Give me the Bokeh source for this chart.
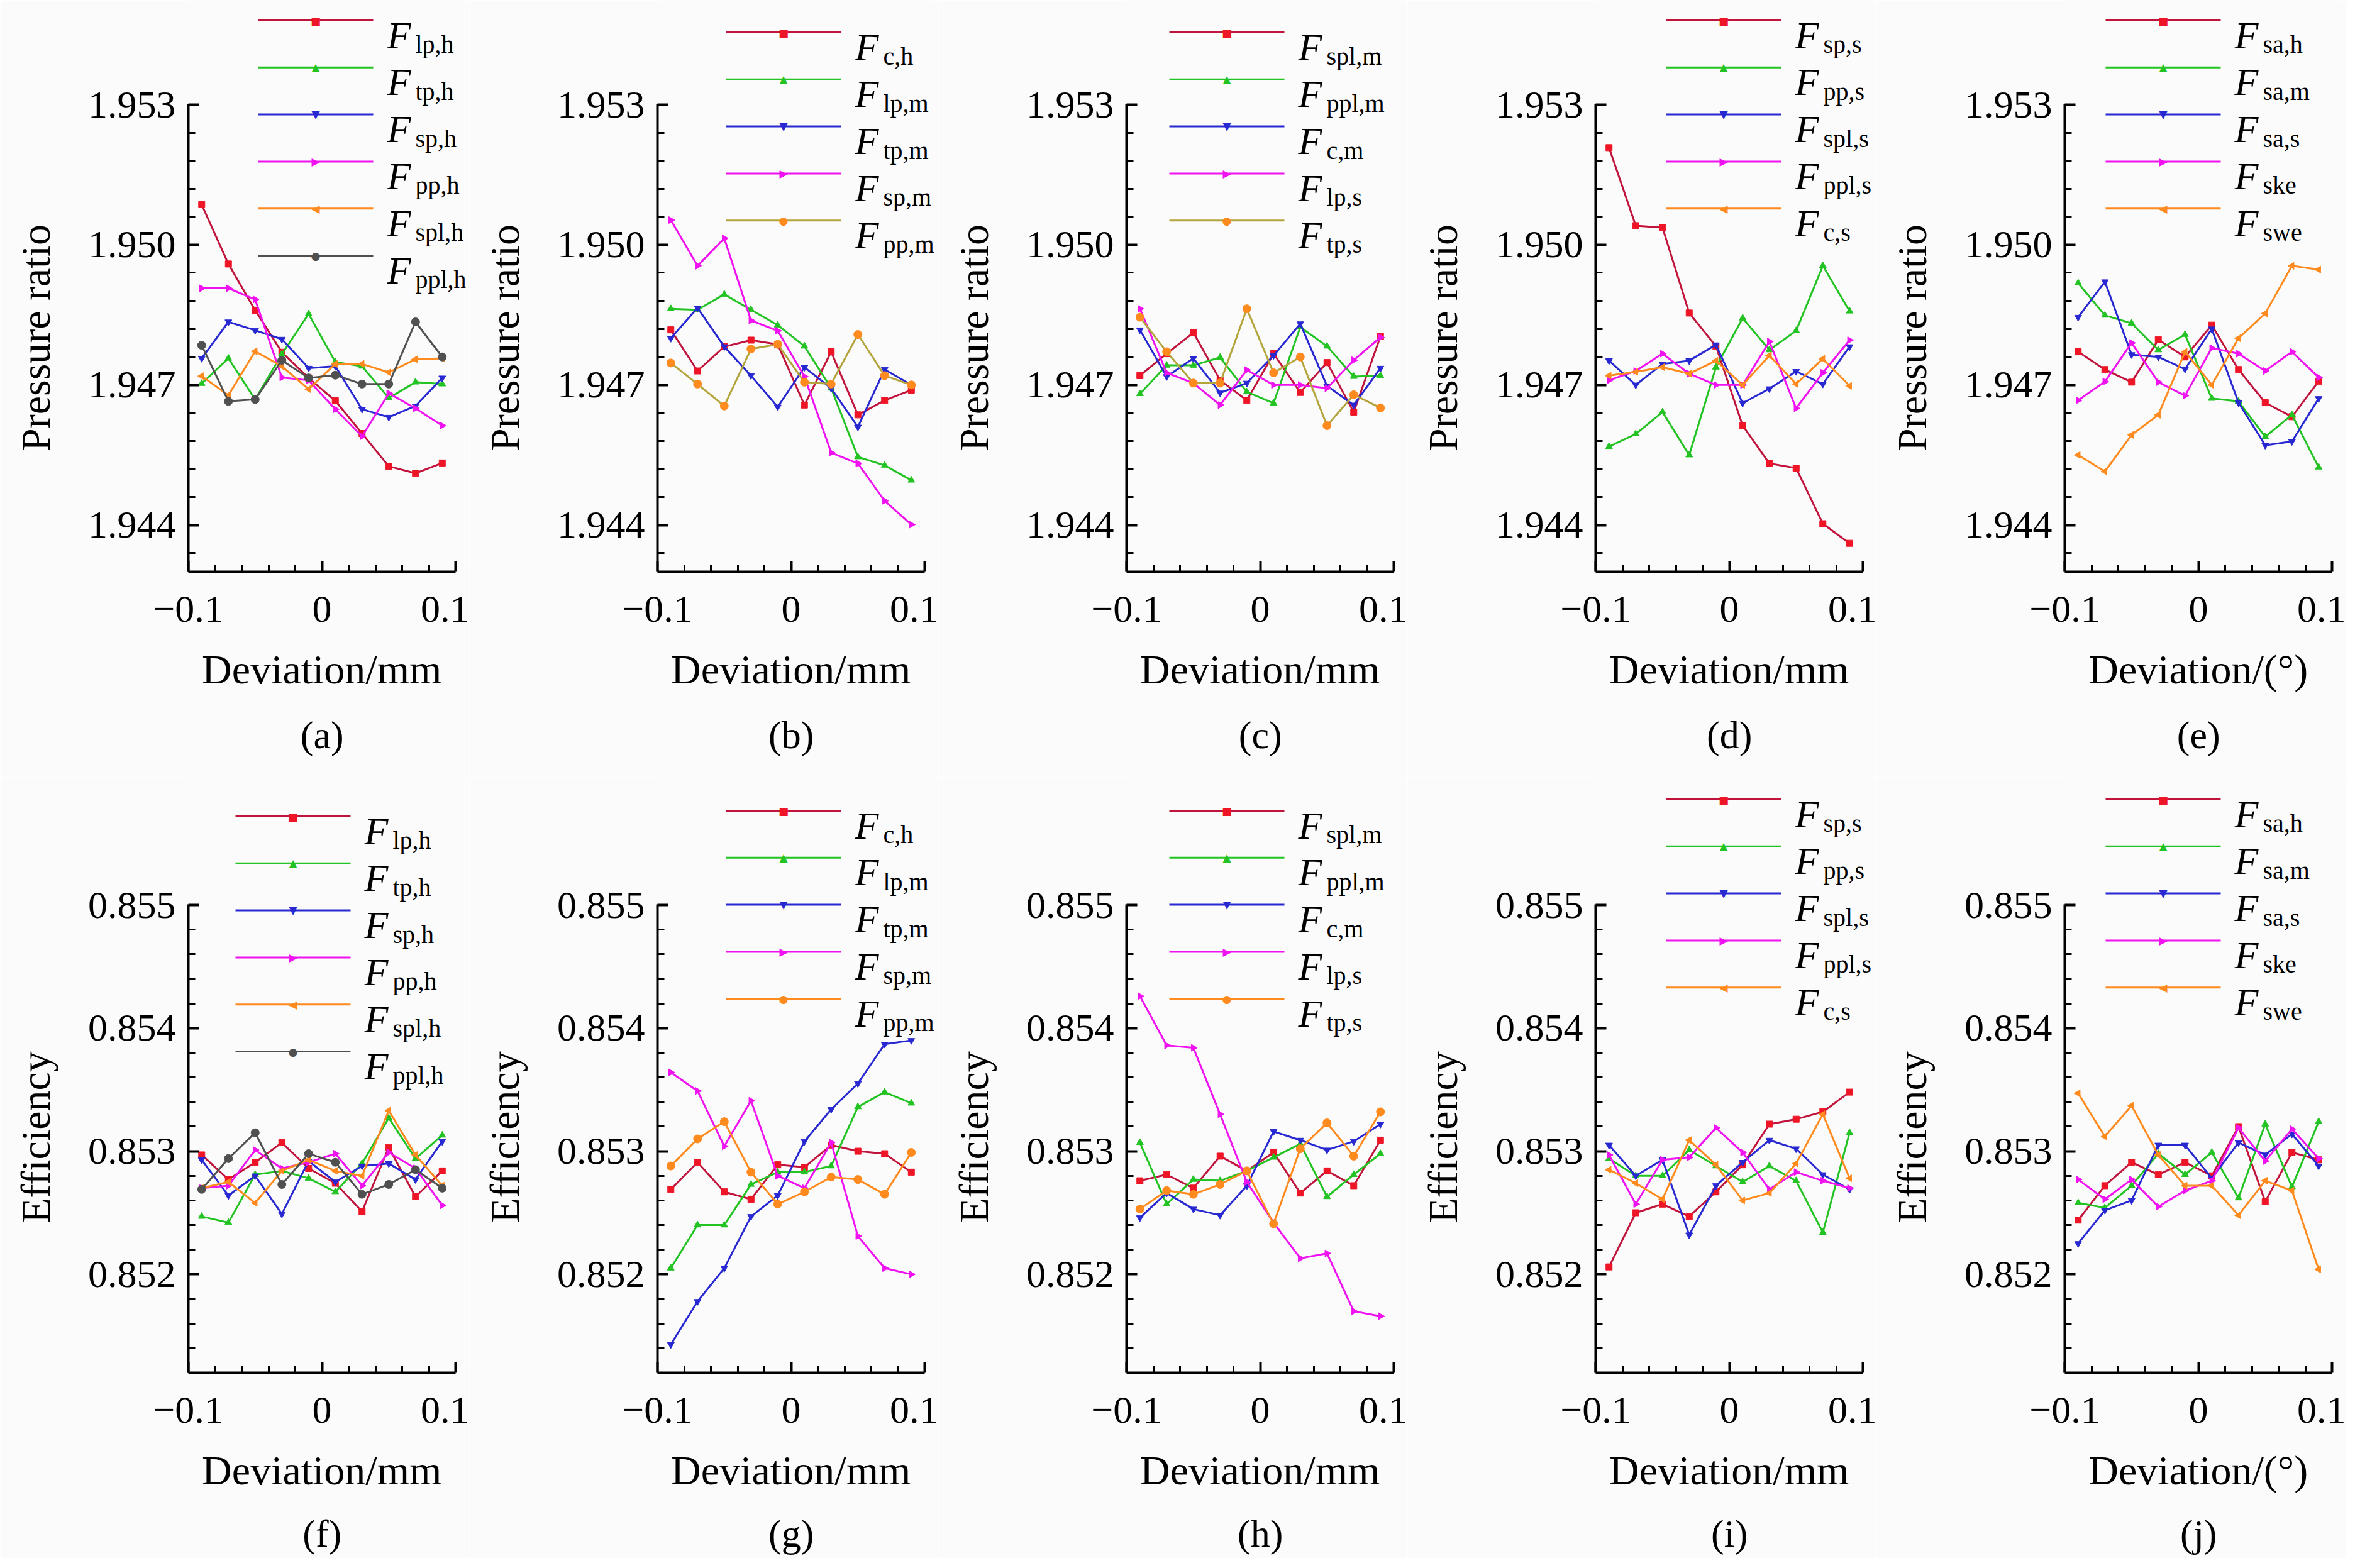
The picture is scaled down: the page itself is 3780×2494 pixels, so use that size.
import math
from bokeh.plotting import figure
from bokeh.models import Range1d, FixedTicker, NumeralTickFormatter, Label, Arrow, LinearAxis
from bokeh.layouts import gridplot
from bokeh.embed import file_html
from bokeh.resources import INLINE

# ---------------- data ----------------
deviation = [-0.09, -0.07, -0.05, -0.03, -0.01, 0.01, 0.03, 0.05, 0.07, 0.09]
x_ticks = [-0.1, 0.0, 0.1]
x_tick_labels = ["\u22120.1", "0", "0.1"]
pr_ticks = [1.944, 1.947, 1.950, 1.953]
eff_ticks = [0.852, 0.853, 0.854, 0.855]

# (a) pressure ratio
a_lp_h = [1.95086, 1.94959, 1.94860, 1.94770, 1.94715, 1.94666, 1.94596, 1.94526, 1.94511, 1.94533]
a_tp_h = [1.94703, 1.94757, 1.94669, 1.94766, 1.94852, 1.94749, 1.94740, 1.94672, 1.94706, 1.94702]
a_sp_h = [1.94757, 1.94835, 1.94817, 1.94798, 1.94736, 1.94740, 1.94648, 1.94631, 1.94655, 1.94715]
a_pp_h = [1.94907, 1.94907, 1.94883, 1.94716, 1.94710, 1.94648, 1.94590, 1.94682, 1.94650, 1.94613]
a_spl_h = [1.94719, 1.94678, 1.94772, 1.94740, 1.94691, 1.94745, 1.94745, 1.94727, 1.94755, 1.94757]
a_ppl_h = [1.94785, 1.94665, 1.94669, 1.94753, 1.94715, 1.94721, 1.94702, 1.94702, 1.94835, 1.94760]
# (b)
b_c_h = [1.94818, 1.94730, 1.94782, 1.94796, 1.94787, 1.94657, 1.94771, 1.94636, 1.94667, 1.94689]
b_lp_m = [1.94863, 1.94861, 1.94894, 1.94861, 1.94828, 1.94783, 1.94693, 1.94546, 1.94528, 1.94496]
b_tp_m = [1.94800, 1.94865, 1.94782, 1.94720, 1.94653, 1.94738, 1.94693, 1.94610, 1.94733, 1.94700]
b_sp_m = [1.95053, 1.94955, 1.95014, 1.94838, 1.94816, 1.94718, 1.94555, 1.94532, 1.94452, 1.94401]
b_pp_m = [1.94747, 1.94702, 1.94655, 1.94777, 1.94787, 1.94706, 1.94702, 1.94808, 1.94720, 1.94700]
# (c)
c_spl_m = [1.94720, 1.94767, 1.94812, 1.94710, 1.94667, 1.94767, 1.94684, 1.94748, 1.94642, 1.94804]
c_ppl_m = [1.94681, 1.94742, 1.94742, 1.94759, 1.94685, 1.94661, 1.94824, 1.94783, 1.94718, 1.94720]
c_c_m = [1.94818, 1.94718, 1.94757, 1.94683, 1.94704, 1.94763, 1.94831, 1.94698, 1.94657, 1.94736]
c_lp_s = [1.94863, 1.94726, 1.94704, 1.94657, 1.94732, 1.94700, 1.94700, 1.94693, 1.94753, 1.94802]
c_tp_s = [1.94845, 1.94771, 1.94704, 1.94704, 1.94863, 1.94726, 1.94760, 1.94613, 1.94679, 1.94651]
# (d)
d_sp_s = [1.95208, 1.95041, 1.95037, 1.94854, 1.94783, 1.94613, 1.94532, 1.94522, 1.94403, 1.94361]
d_pp_s = [1.94568, 1.94595, 1.94642, 1.94550, 1.94738, 1.94843, 1.94775, 1.94816, 1.94955, 1.94858]
d_spl_s = [1.94752, 1.94700, 1.94745, 1.94752, 1.94786, 1.94661, 1.94692, 1.94729, 1.94702, 1.94782]
d_ppl_s = [1.94710, 1.94730, 1.94767, 1.94724, 1.94700, 1.94700, 1.94793, 1.94650, 1.94726, 1.94796]
d_c_s = [1.94720, 1.94728, 1.94738, 1.94724, 1.94752, 1.94700, 1.94763, 1.94702, 1.94756, 1.94698]
# (e)
e_sa_h = [1.94771, 1.94733, 1.94706, 1.94797, 1.94760, 1.94828, 1.94733, 1.94662, 1.94632, 1.94708]
e_sa_m = [1.94918, 1.94849, 1.94832, 1.94775, 1.94808, 1.94671, 1.94665, 1.94589, 1.94636, 1.94524]
e_sa_s = [1.94845, 1.94921, 1.94765, 1.94760, 1.94734, 1.94820, 1.94662, 1.94571, 1.94579, 1.94671]
e_ske = [1.94667, 1.94707, 1.94790, 1.94706, 1.94677, 1.94779, 1.94767, 1.94730, 1.94771, 1.94716]
e_swe = [1.94550, 1.94515, 1.94593, 1.94636, 1.94771, 1.94700, 1.94800, 1.94853, 1.94955, 1.94947]

# (f) efficiency
f_lp_h = [0.85297, 0.85277, 0.85291, 0.85307, 0.85286, 0.85274, 0.85251, 0.85303, 0.85263, 0.85284]
f_tp_h = [0.85247, 0.85242, 0.85281, 0.85284, 0.85278, 0.85267, 0.85290, 0.85327, 0.85294, 0.85313]
f_sp_h = [0.85293, 0.85264, 0.85280, 0.85249, 0.85292, 0.85275, 0.85288, 0.85290, 0.85277, 0.85308]
f_pp_h = [0.85270, 0.85272, 0.85301, 0.85286, 0.85291, 0.85298, 0.85272, 0.85299, 0.85286, 0.85256]
f_spl_h = [0.85270, 0.85275, 0.85258, 0.85284, 0.85293, 0.85284, 0.85280, 0.85333, 0.85297, 0.85272]
f_ppl_h = [0.85269, 0.85294, 0.85315, 0.85273, 0.85298, 0.85291, 0.85265, 0.85273, 0.85285, 0.85270]
# (g)
g_c_h = [0.85269, 0.85291, 0.85267, 0.85261, 0.85289, 0.85287, 0.85305, 0.85300, 0.85298, 0.85283]
g_lp_m = [0.85205, 0.85240, 0.85240, 0.85273, 0.85283, 0.85283, 0.85288, 0.85336, 0.85348, 0.85339]
g_tp_m = [0.85143, 0.85178, 0.85205, 0.85247, 0.85264, 0.85308, 0.85334, 0.85355, 0.85387, 0.85390]
g_sp_m = [0.85364, 0.85349, 0.85304, 0.85341, 0.85280, 0.85270, 0.85307, 0.85231, 0.85205, 0.85200]
g_pp_m = [0.85288, 0.85310, 0.85324, 0.85283, 0.85257, 0.85267, 0.85279, 0.85277, 0.85265, 0.85299]
# (h)
h_spl_m = [0.85276, 0.85281, 0.85270, 0.85296, 0.85284, 0.85299, 0.85266, 0.85284, 0.85272, 0.85309]
h_ppl_m = [0.85307, 0.85257, 0.85277, 0.85276, 0.85284, 0.85295, 0.85306, 0.85263, 0.85281, 0.85298]
h_c_m = [0.85246, 0.85266, 0.85253, 0.85248, 0.85272, 0.85316, 0.85309, 0.85301, 0.85308, 0.85322]
h_lp_s = [0.85426, 0.85386, 0.85384, 0.85330, 0.85275, 0.85242, 0.85213, 0.85217, 0.85170, 0.85166]
h_tp_s = [0.85253, 0.85268, 0.85265, 0.85273, 0.85284, 0.85241, 0.85302, 0.85323, 0.85296, 0.85332]
# (i)
i_sp_s = [0.85206, 0.85250, 0.85257, 0.85247, 0.85267, 0.85289, 0.85322, 0.85326, 0.85332, 0.85348]
i_pp_s = [0.85294, 0.85280, 0.85280, 0.85301, 0.85288, 0.85275, 0.85288, 0.85276, 0.85234, 0.85315]
i_spl_s = [0.85305, 0.85280, 0.85293, 0.85232, 0.85272, 0.85291, 0.85309, 0.85302, 0.85281, 0.85269]
i_ppl_s = [0.85297, 0.85257, 0.85293, 0.85295, 0.85319, 0.85299, 0.85269, 0.85283, 0.85276, 0.85270]
i_c_s = [0.85285, 0.85274, 0.85261, 0.85309, 0.85289, 0.85260, 0.85266, 0.85290, 0.85330, 0.85278]
# (j)
j_sa_h = [0.85244, 0.85272, 0.85291, 0.85281, 0.85291, 0.85280, 0.85320, 0.85259, 0.85299, 0.85293]
j_sa_m = [0.85258, 0.85254, 0.85272, 0.85298, 0.85281, 0.85299, 0.85262, 0.85322, 0.85271, 0.85324]
j_sa_s = [0.85225, 0.85252, 0.85260, 0.85305, 0.85305, 0.85278, 0.85307, 0.85297, 0.85314, 0.85288]
j_ske = [0.85277, 0.85261, 0.85277, 0.85255, 0.85268, 0.85276, 0.85319, 0.85292, 0.85318, 0.85294]
j_swe = [0.85347, 0.85312, 0.85337, 0.85297, 0.85272, 0.85272, 0.85248, 0.85276, 0.85268, 0.85204]

labels_a = ["lp,h", "tp,h", "sp,h", "pp,h", "spl,h", "ppl,h"]
labels_b = ["c,h", "lp,m", "tp,m", "sp,m", "pp,m"]
labels_c = ["spl,m", "ppl,m", "c,m", "lp,s", "tp,s"]
labels_d = ["sp,s", "pp,s", "spl,s", "ppl,s", "c,s"]
labels_e = ["sa,h", "sa,m", "sa,s", "ske", "swe"]

# ---------------- style ----------------
BG = "#fbfbfb"
FONT = "Liberation Serif"
NB = "\u00a0"
RED_L, RED_M = "#c0143c", "#ee1526"
GREEN = "#22c322"
BLUE = "#2828d2"
MAG = "#f012f0"
ORANGE = "#ff8a1e"
GRAY = "#505050"
OLIVE = "#b4a43c"

# marker kind: (bokeh marker, angle, legend char, size)
MK = {
    "sq": ("square", 0.0, "\u25A0", 10),
    "up": ("triangle", 0.0, "\u25B2", 11),
    "dn": ("inverted_triangle", 0.0, "\u25BC", 11),
    "rt": ("triangle", -math.pi / 2, "\u25B6", 11),
    "lt": ("triangle", math.pi / 2, "\u25C0", 11),
    "ci": ("circle", 0.0, "\u25CF", 13),
}

std6 = [(RED_L, RED_M, "sq"), (GREEN, GREEN, "up"), (BLUE, BLUE, "dn"),
        (MAG, MAG, "rt"), (ORANGE, ORANGE, "lt"), (GRAY, GRAY, "ci")]
std5 = std6[:5]
olive5 = std6[:4] + [(OLIVE, ORANGE, "ci")]
orange5 = std6[:4] + [(ORANGE, ORANGE, "ci")]

FIG_W = 746
BORDER_L = 299
FW = 425          # pixel width of the -0.1..0.1 span
EXT_R = 16        # frame extension right of 0.1 (room for legend text)
# rows: (figure height, bottom border, pixel height of the data span, caption standoff)
TOP_H, TOP_BB, TOP_DH, TOP_CS = 1236, 327, 743, 31
BOT_H, BOT_BB, BOT_DH, BOT_CS = 1242, 295, 744, 27

minor_x = [-0.08, -0.06, -0.04, -0.02, 0.02, 0.04, 0.06, 0.08]
minor_pr = [round(1.953 - 0.0006 * k, 4) for k in range(1, 17)]
minor_eff = [round(0.855 - 0.0002 * k, 4) for k in range(1, 19)]


def style_text_axis(ax, size):
    ax.axis_label_text_font = FONT
    ax.axis_label_text_font_size = size
    ax.axis_label_text_font_style = "normal"
    ax.axis_label_text_color = "black"


def make_panel(top, series, labels, styles, xlabel, caption, leg_x0, leg_d0):
    if top:
        H, BB, DH, CS = TOP_H, TOP_BB, TOP_DH, TOP_CS
        y0, y1, yt, ym = 1.943, 1.953, pr_ticks, minor_pr
        ylab = "Pressure ratio" + NB * 10
    else:
        H, BB, DH, CS = BOT_H, BOT_BB, BOT_DH, BOT_CS
        y0, y1, yt, ym = 0.8512, 0.855, eff_ticks, minor_eff
        ylab = "Efficiency" + NB * 12
    ext_top = H - BB - DH
    y_end = y1 + (y1 - y0) * ext_top / DH
    x_end = 0.1 + 0.2 * EXT_R / FW
    p = figure(width=FIG_W, height=H, x_range=Range1d(-0.1, x_end), y_range=Range1d(y0, y_end),
               output_backend="svg", toolbar_location=None, tools="",
               min_border_left=BORDER_L, min_border_right=FIG_W - BORDER_L - FW - EXT_R,
               min_border_top=0, min_border_bottom=BB,
               background_fill_color=BG, border_fill_color=BG, outline_line_color=None)
    p.grid.visible = False

    p.xaxis.ticker = FixedTicker(ticks=x_ticks, minor_ticks=minor_x)
    p.xaxis.major_label_overrides = {t: s for t, s in zip(x_ticks, x_tick_labels)}
    p.xaxis.bounds = (-0.1, 0.1)
    p.yaxis.ticker = FixedTicker(ticks=yt, minor_ticks=ym)
    p.yaxis.formatter = NumeralTickFormatter(format="0.000")
    p.yaxis.bounds = (y0, y1 + (y1 - y0) * 1e-3)
    p.xaxis.axis_label = xlabel + NB
    p.yaxis.axis_label = ylab
    for ax in (p.xaxis, p.yaxis):
        ax.axis_line_width = 4
        ax.axis_line_color = "black"
        ax.major_tick_line_width = 4
        ax.minor_tick_line_width = 3
        ax.major_tick_line_color = "black"
        ax.minor_tick_line_color = "black"
        ax.major_tick_in = 17
        ax.major_tick_out = 0
        ax.minor_tick_in = 11
        ax.minor_tick_out = 0
        ax.major_label_text_font = FONT
        ax.major_label_text_font_size = "62px"
        ax.major_label_text_color = "black"
        style_text_axis(ax, "66px")
    p.xaxis.major_label_standoff = 39
    p.xaxis.axis_label_standoff = 36
    p.yaxis.major_label_standoff = 20
    p.yaxis.axis_label_standoff = 44

    # panel caption, as the label of a bare axis under the x axis
    cap = LinearAxis(ticker=FixedTicker(ticks=[]), axis_label=caption + NB,
                     axis_label_standoff=CS, major_label_standoff=0)
    cap.axis_line_color = None
    cap.major_tick_line_color = None
    cap.minor_tick_line_color = None
    cap.major_tick_in = 0
    cap.major_tick_out = 0
    cap.minor_tick_in = 0
    cap.minor_tick_out = 0
    style_text_axis(cap, "62px")
    p.add_layout(cap, "below")

    pitch = 74.8
    line_len = 183
    for i, (vals, lab, (lc, mc, mk)) in enumerate(zip(series, labels, styles)):
        marker, ang, ch, sz = MK[mk]
        p.line(deviation, vals, line_color=lc, line_width=3)
        p.scatter(deviation, vals, marker=marker, angle=ang, size=sz,
                  fill_color=mc, line_color=mc)
        y = DH + leg_d0 - i * pitch
        x0, x1 = leg_x0, leg_x0 + line_len
        p.add_layout(Arrow(end=None, x_start=x0, y_start=y, x_end=x1, y_end=y,
                           start_units="screen", end_units="screen",
                           line_color=lc, line_width=3))
        p.add_layout(Label(x=(x0 + x1) / 2, y=y, x_units="screen", y_units="screen", text=ch,
                           text_align="center", text_baseline="middle", text_color=mc,
                           text_font="DejaVu Sans", text_font_size="17px"))
        fx = x1 + 22
        p.add_layout(Label(x=fx, y=y - 23, x_units="screen", y_units="screen", text="F",
                           text_font=FONT, text_font_style="italic", text_font_size="62px",
                           text_baseline="alphabetic", text_color="black"))
        p.add_layout(Label(x=fx + 45, y=y - 38, x_units="screen", y_units="screen", text=lab,
                           text_font=FONT, text_font_size="40px",
                           text_baseline="alphabetic", text_color="black"))
    return p


MM = "Deviation/mm"
DG = "Deviation/(\u00b0)"
pa = make_panel(True, [a_lp_h, a_tp_h, a_sp_h, a_pp_h, a_spl_h, a_ppl_h], labels_a, std6, MM, "(a)", 111, 134)
pb = make_panel(True, [b_c_h, b_lp_m, b_tp_m, b_sp_m, b_pp_m], labels_b, olive5, MM, "(b)", 109, 115)
pc = make_panel(True, [c_spl_m, c_ppl_m, c_c_m, c_lp_s, c_tp_s], labels_c, olive5, MM, "(c)", 68, 115)
pd = make_panel(True, [d_sp_s, d_pp_s, d_spl_s, d_ppl_s, d_c_s], labels_d, std5, MM, "(d)", 112, 134)
pe = make_panel(True, [e_sa_h, e_sa_m, e_sa_s, e_ske, e_swe], labels_e, std5, DG, "(e)", 65, 134)
pf = make_panel(False, [f_lp_h, f_tp_h, f_sp_h, f_pp_h, f_spl_h, f_ppl_h], labels_a, std6, MM, "(f)", 75, 141)
pg = make_panel(False, [g_c_h, g_lp_m, g_tp_m, g_sp_m, g_pp_m], labels_b, orange5, MM, "(g)", 109, 150)
ph = make_panel(False, [h_spl_m, h_ppl_m, h_c_m, h_lp_s, h_tp_s], labels_c, orange5, MM, "(h)", 68, 150)
pi_ = make_panel(False, [i_sp_s, i_pp_s, i_spl_s, i_ppl_s, i_c_s], labels_d, std5, MM, "(i)", 112, 168)
pj = make_panel(False, [j_sa_h, j_sa_m, j_sa_s, j_ske, j_swe], labels_e, std5, DG, "(j)", 65, 168)

grid = gridplot([[pa, pb, pc, pd, pe], [pf, pg, ph, pi_, pj]], toolbar_location=None)

open("out.html", "w").write(file_html(grid, INLINE))
